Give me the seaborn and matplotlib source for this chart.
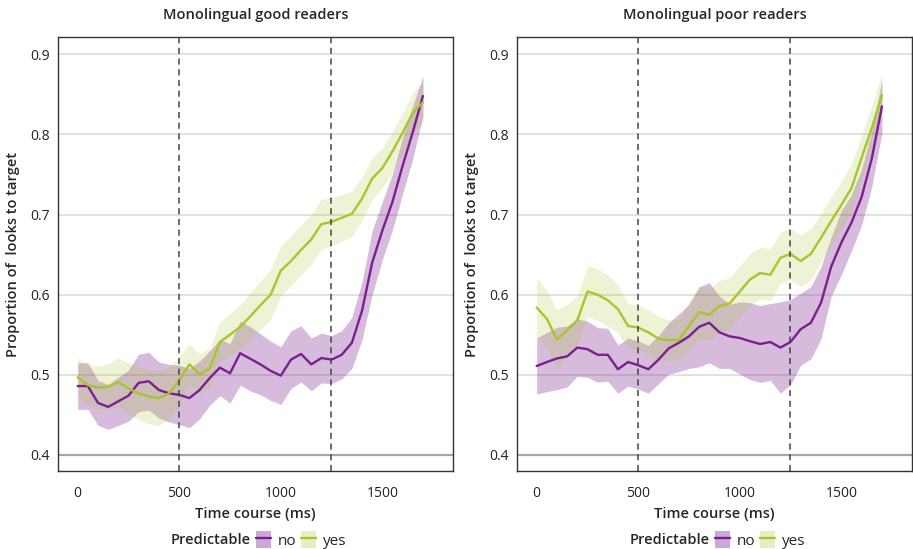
import numpy as np
import pandas as pd
import matplotlib
matplotlib.use("Agg")
import matplotlib.pyplot as plt
import seaborn as sns
from matplotlib.patches import Patch
from matplotlib.lines import Line2D

# ---------------- data ----------------
time_ms = list(range(0, 1701, 50))

good_no = [0.486, 0.486, 0.465, 0.460, 0.467, 0.474, 0.490, 0.492, 0.481, 0.477,
           0.475, 0.471, 0.481, 0.496, 0.509, 0.502, 0.527, 0.520, 0.513, 0.505,
           0.499, 0.519, 0.526, 0.513, 0.521, 0.519, 0.525, 0.540, 0.580, 0.640,
           0.680, 0.716, 0.761, 0.803, 0.848]
good_no_ci = [0.029, 0.029, 0.028, 0.028, 0.030, 0.032, 0.036, 0.036, 0.035, 0.036,
              0.037, 0.037, 0.036, 0.034, 0.035, 0.037, 0.040, 0.040, 0.038, 0.037,
              0.036, 0.036, 0.035, 0.033, 0.031, 0.030, 0.030, 0.032, 0.036, 0.040,
              0.036, 0.035, 0.035, 0.033, 0.025]
good_yes = [0.497, 0.487, 0.484, 0.485, 0.491, 0.483, 0.477, 0.473, 0.471, 0.477,
            0.493, 0.513, 0.501, 0.508, 0.541, 0.550, 0.560, 0.573, 0.587, 0.600,
            0.630, 0.642, 0.656, 0.669, 0.688, 0.691, 0.696, 0.701, 0.720, 0.745,
            0.758, 0.779, 0.802, 0.827, 0.840]
good_yes_ci = [0.024, 0.025, 0.027, 0.029, 0.030, 0.032, 0.033, 0.034, 0.034, 0.033,
               0.030, 0.026, 0.025, 0.025, 0.025, 0.026, 0.027, 0.029, 0.030, 0.031,
               0.031, 0.031, 0.031, 0.031, 0.031, 0.030, 0.029, 0.028, 0.027, 0.026,
               0.025, 0.025, 0.025, 0.025, 0.025]

poor_no = [0.511, 0.516, 0.5205, 0.523, 0.534, 0.532, 0.525, 0.525, 0.507, 0.516,
           0.512, 0.507, 0.519, 0.533, 0.540, 0.548, 0.560, 0.565, 0.553, 0.548,
           0.546, 0.542, 0.5385, 0.541, 0.534, 0.541, 0.557, 0.565, 0.590, 0.635,
           0.665, 0.690, 0.722, 0.770, 0.835]
poor_no_ci = [0.035, 0.037, 0.039, 0.038, 0.036, 0.035, 0.034, 0.033, 0.030, 0.030,
              0.030, 0.030, 0.030, 0.032, 0.036, 0.040, 0.050, 0.050, 0.045, 0.040,
              0.045, 0.048, 0.048, 0.048, 0.057, 0.053, 0.045, 0.045, 0.045, 0.037,
              0.040, 0.035, 0.035, 0.035, 0.033]
poor_yes = [0.584, 0.570, 0.544, 0.556, 0.568, 0.604, 0.600, 0.593, 0.582, 0.561,
            0.559, 0.553, 0.545, 0.5435, 0.5435, 0.561, 0.578, 0.575, 0.586, 0.589,
            0.604, 0.619, 0.627, 0.625, 0.646, 0.651, 0.642, 0.651, 0.671, 0.692,
            0.712, 0.733, 0.771, 0.808, 0.849]
poor_yes_ci = [0.037, 0.035, 0.037, 0.032, 0.030, 0.032, 0.032, 0.032, 0.030, 0.028,
               0.028, 0.028, 0.028, 0.025, 0.025, 0.030, 0.032, 0.032, 0.032, 0.032,
               0.032, 0.032, 0.032, 0.032, 0.032, 0.032, 0.032, 0.032, 0.030, 0.030,
               0.030, 0.030, 0.028, 0.028, 0.028]

panel_titles = ["Monolingual good readers", "Monolingual poor readers"]
levels = ["no", "yes"]
y_ticks = [0.4, 0.5, 0.6, 0.7, 0.8, 0.9]
x_ticks = [0, 500, 1000, 1500]
region_lines = [500, 1245]

colors = {"no": "#7b1f8f", "yes": "#a8c62c"}
band_alpha = {"no": 0.30, "yes": 0.20}

panels = [
    {"no": (good_no, good_no_ci), "yes": (good_yes, good_yes_ci)},
    {"no": (poor_no, poor_no_ci), "yes": (poor_yes, poor_yes_ci)},
]

# ---------------- style ----------------
sns.set_theme(style="white")
plt.rcParams["font.family"] = ["Open Sans", "DejaVu Sans"]

W, H = 913, 549
fig = plt.figure(figsize=(W / 100, H / 100), dpi=100)

axes_px = [(58, 37, 453, 471), (517, 37, 912, 471)]

for i, (panel, (x0, y0, x1, y1)) in enumerate(zip(panels, axes_px)):
    ax = fig.add_axes([x0 / W, 1 - y1 / H, (x1 - x0) / W, (y1 - y0) / H])
    rows = []
    for lev in levels:
        m, ci = panel[lev]
        for t, v in zip(time_ms, m):
            rows.append({"time": t, "prop": v, "Predictable": lev})
    df = pd.DataFrame(rows)

    # grid lines
    for yv in y_ticks:
        if yv == 0.4:
            ax.axhline(yv, color="#a6a6a6", lw=1.6, zorder=0)
        else:
            ax.axhline(yv, color="#dcdcdc", lw=1.2, zorder=0)

    # bands: purple first, green on top
    for lev in levels:
        m, ci = panel[lev]
        m = np.array(m)
        ci = np.array(ci)
        ax.fill_between(time_ms, m - ci, m + ci, color=colors[lev],
                        alpha=band_alpha[lev], lw=0, zorder=1)

    sns.lineplot(data=df, x="time", y="prop", hue="Predictable",
                 hue_order=levels, palette=colors, lw=1.7, ax=ax,
                 legend=False, zorder=3)

    for xv in region_lines:
        ax.axvline(xv, color="#444444", lw=1.1, ls=(0, (4, 3)), zorder=4)

    ax.set_xlim(-97, 1848)
    ax.set_ylim(0.380, 0.9216)
    ax.set_xticks(x_ticks)
    ax.set_yticks(y_ticks)
    ax.set_yticklabels([f"{v:.1f}" for v in y_ticks])
    ax.tick_params(axis="both", length=0, labelsize=10, colors="#222222")
    ax.tick_params(axis="x", pad=11)
    ax.tick_params(axis="y", pad=6)
    for s in ax.spines.values():
        s.set_visible(True)
        s.set_color("#333333")
        s.set_linewidth(1.0)

    ax.set_title(panel_titles[i], fontsize=10.5, fontweight="semibold", pad=13)
    ax.set_xlabel("Time course (ms)", fontsize=10.5, fontweight="semibold", labelpad=4)
    ax.set_ylabel("Proportion of  looks to target", fontsize=10.5,
                  fontweight="semibold", labelpad=7)

    # legend below
    cx = (x0 + x1) / 2
    fig.text((cx - 85) / W, 1 - 540 / H, "Predictable", fontsize=10.5,
             fontweight="semibold", ha="left", va="center")
    handles = []
    for lev in levels:
        handles.append((Patch(facecolor=colors[lev], alpha=band_alpha[lev] + 0.08, lw=0),
                        Line2D([0], [0], color=colors[lev], lw=1.7)))
    fig.legend(handles, levels, loc="center left",
               bbox_to_anchor=((cx + 0.5) / W, 1 - 540 / H), ncol=2, frameon=False,
               fontsize=11, handlelength=0.95, handleheight=1.35,
               handletextpad=0.45, columnspacing=0.35, borderpad=0, borderaxespad=0)

fig.savefig("out.png", dpi=100)
